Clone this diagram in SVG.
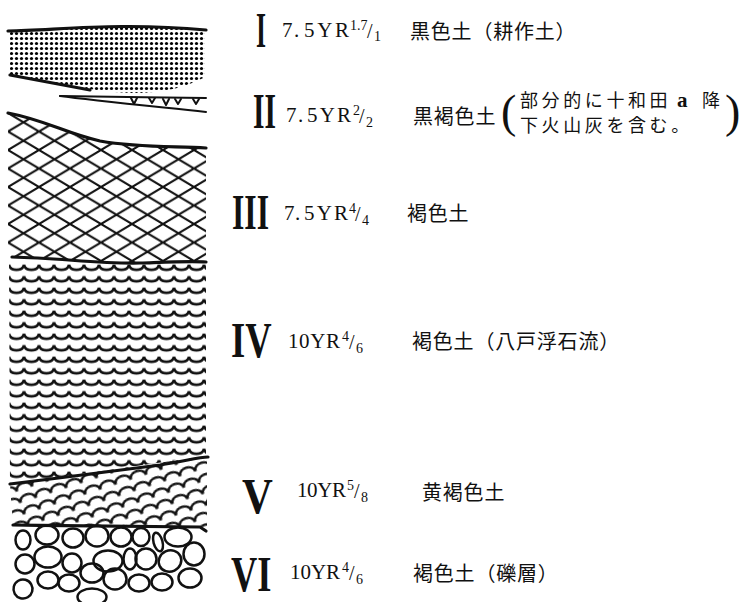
<svg xmlns="http://www.w3.org/2000/svg" width="742" height="602" viewBox="0 0 742 602">
<style>
  .bd{fill:none;stroke:#111;stroke-width:3.2;stroke-linecap:round;stroke-linejoin:round}
  .ln{fill:none;stroke:#111;stroke-width:2;stroke-linecap:round;stroke-linejoin:round}
  .peb ellipse{fill:none;stroke:#111;stroke-width:2.5}
  .num{font-family:"Liberation Serif",serif;font-weight:bold;font-size:50px;fill:#111}
  .mun{font-family:"Liberation Serif",serif;font-size:21px;fill:#111}
  .fr{font-family:"Liberation Serif",serif;font-size:14px;fill:#111}
  .sl{font-family:"Liberation Serif",serif;font-size:20px;fill:#111}
  .jp{font-family:"Noto Sans CJK JP","Noto Sans CJK SC",sans-serif;font-size:20px;letter-spacing:0.8px;fill:#111}
  .jp2{font-family:"Noto Sans CJK JP","Noto Sans CJK SC",sans-serif;font-size:18px;letter-spacing:3.6px;fill:#111}
  .par{font-family:"Liberation Serif",serif;font-size:46px;fill:#111}
</style>
<defs>
  <pattern id="dots" patternUnits="userSpaceOnUse" x="9" y="31" width="5" height="5">
    <circle cx="2.5" cy="2.5" r="1.6" fill="#000"/>
  </pattern>
  <pattern id="hatch" patternUnits="userSpaceOnUse" x="8" y="113" width="31" height="18.5">
    <path d="M-3.1,-1.85 L34.1,20.35 M-3.1,20.35 L34.1,-1.85" stroke="#111" stroke-width="2.1" fill="none"/>
  </pattern>
  <pattern id="waves" patternUnits="userSpaceOnUse" x="9" y="263" width="15" height="11.5">
    <path d="M0,1.6 C1.5,8.5 13.5,8.5 15,1.6" fill="none" stroke="#111" stroke-width="2.6"/>
  </pattern>
  <pattern id="waves-tilt" patternUnits="userSpaceOnUse" x="10" y="470" width="16" height="12" patternTransform="rotate(-18 10 470)">
    <path d="M0,10.5 C1,2 15,2 16,10.5" fill="none" stroke="#111" stroke-width="2.5"/>
  </pattern>
</defs>

<!-- soil column -->
<g id="horizon-I">
  <path d="M10,31 C60,30 120,22 205,30 L205,77 C190,85 170,92 140,93 C120,93 100,91 90,89 L10,75 Z" fill="url(#dots)"/>
  <path class="bd" d="M8,31 C60,30 120,22 206,30" stroke-width="3.6"/>
  <path class="bd" d="M10,75 L90,90"/>
</g>

<g id="horizon-II">
  <path class="ln" d="M60,96 C100,97 160,97 206,98"/>
  <path class="ln" d="M60,96 C90,100 140,105 206,112" stroke-width="2.6"/>
  <path class="ln" stroke-width="1.6" d="M131,98 L134,104 L137,98 M149,98 L152,103 L155,98 M163,99 L166,105 L169,99 M175,99 L178,104 L181,99 M193,99 L196,104 L199,99"/>
</g>

<g id="horizon-III">
  <path d="M8,113 C45,120 65,133 100,141 C140,148 175,146 206,148 L206,262 C190,261 170,262 140,263 C100,264 60,258 12,257 L8,257 Z" fill="url(#hatch)"/>
  <path class="bd" d="M8,113 C45,120 65,133 100,141 C140,148 175,146 206,148"/>
  <path class="bd" d="M12,257 C60,258 100,264 140,263 C170,262 190,261 206,262"/>
</g>

<g id="horizon-IV">
  <path d="M9,262 C60,259 100,265 140,264 C170,263 190,262 206,263 L206,456 L10,484 Z" fill="url(#waves)"/>
</g>

<g id="horizon-V">
  <path d="M10,484 L207,456 L207,528 L13,526 Z" fill="url(#waves-tilt)"/>
  <path class="bd" d="M10,484 C60,478 120,470 160,465 C185,461 200,457 208,457" stroke-width="3.6"/>
  <path class="bd" d="M13,525 C80,526 150,526 200,527 L206,531"/>
</g>

<g id="horizon-VI" class="peb">
  <ellipse cx="23" cy="540" rx="7.5" ry="9.5"/>
  <ellipse cx="47" cy="535" rx="11.5" ry="9.5"/>
  <ellipse cx="73" cy="538" rx="10.5" ry="9.5"/>
  <ellipse cx="97" cy="536" rx="11.5" ry="10.5"/>
  <ellipse cx="121" cy="537" rx="10.5" ry="9.5"/>
  <ellipse cx="141" cy="537" rx="8.5" ry="9"/>
  <ellipse cx="158" cy="542" rx="4.5" ry="9.5" transform="rotate(-15 158 542)"/>
  <ellipse cx="178" cy="537" rx="13.5" ry="9.5"/>
  <ellipse cx="25" cy="564" rx="9.5" ry="9.5"/>
  <ellipse cx="48" cy="557" rx="13.5" ry="10.5"/>
  <ellipse cx="72" cy="563" rx="9.5" ry="9.5"/>
  <ellipse cx="108" cy="561" rx="14.5" ry="10.5"/>
  <ellipse cx="130" cy="559" rx="6.5" ry="10.5"/>
  <ellipse cx="146" cy="559" rx="10.5" ry="10.5"/>
  <ellipse cx="170" cy="561" rx="11.5" ry="10.5" transform="rotate(-25 170 561)"/>
  <ellipse cx="194" cy="554" rx="10.5" ry="11.5"/>
  <ellipse cx="23" cy="589" rx="9.5" ry="9.5" transform="rotate(-30 23 589)"/>
  <ellipse cx="48" cy="580" rx="10.5" ry="8.5"/>
  <ellipse cx="69" cy="583" rx="10.5" ry="8.5"/>
  <ellipse cx="92" cy="573" rx="11.5" ry="9.5"/>
  <ellipse cx="115" cy="579" rx="11.5" ry="10.5"/>
  <ellipse cx="139" cy="583" rx="10.5" ry="8.5"/>
  <ellipse cx="162" cy="582" rx="10.5" ry="8.5"/>
  <ellipse cx="190" cy="578" rx="11.5" ry="9.5"/>
  <ellipse cx="92" cy="597" rx="14.5" ry="8.5"/>
</g>

<!-- horizon labels: numerals are narrowed with a horizontal scale -->
<g id="label-I">
  <text class="num" transform="translate(256,47) scale(0.514,1)">I</text>
  <text class="mun" y="37"><tspan x="282">7</tspan><tspan x="294">.</tspan><tspan x="304" textLength="45" lengthAdjust="spacing">5YR</tspan></text>
  <text class="fr" x="350" y="30">1.7</text>
  <text class="sl" x="367" y="38">/</text>
  <text class="fr" x="374" y="41">1</text>
  <text class="jp" x="410" y="39">黒色土（耕作土）</text>
</g>

<g id="label-II">
  <text class="num" transform="translate(253,128) scale(0.59,1)">II</text>
  <text class="mun" y="122"><tspan x="286">7</tspan><tspan x="298">.</tspan><tspan x="307" textLength="44" lengthAdjust="spacing">5YR</tspan></text>
  <text class="fr" x="353" y="115">2</text>
  <text class="sl" x="359" y="123">/</text>
  <text class="fr" x="366" y="127">2</text>
  <text class="jp" x="413" y="124">黒褐色土</text>
  <text class="par" x="501" y="127">(</text>
  <text class="jp2" x="520" y="107">部分的に十和田</text>
  <text class="mun" x="677" y="107" font-weight="bold" font-size="18">a</text>
  <text class="jp2" x="702" y="107">降</text>
  <text class="jp2" x="520" y="132">下火山灰を含む。</text>
  <text class="par" x="725" y="127">)</text>
</g>

<g id="label-III">
  <text class="num" transform="translate(232,229) scale(0.634,1)">III</text>
  <text class="mun" y="220"><tspan x="284">7</tspan><tspan x="295">.</tspan><tspan x="304" textLength="44" lengthAdjust="spacing">5YR</tspan></text>
  <text class="fr" x="349" y="213">4</text>
  <text class="sl" x="355" y="221">/</text>
  <text class="fr" x="362" y="225">4</text>
  <text class="jp" x="407" y="221">褐色土</text>
</g>

<g id="label-IV">
  <text class="num" font-size="53" transform="translate(231,357) scale(0.73,1)">IV</text>
  <text class="mun" x="288" y="348" textLength="52" lengthAdjust="spacing">10YR</text>
  <text class="fr" x="342" y="341">4</text>
  <text class="sl" x="349" y="349">/</text>
  <text class="fr" x="356" y="353">6</text>
  <text class="jp" x="412" y="349">褐色土（八戸浮石流）</text>
</g>

<g id="label-V">
  <text class="num" font-size="52" transform="translate(242,513) scale(0.853,1)">V</text>
  <text class="mun" x="297" y="497" textLength="49" lengthAdjust="spacing">10YR</text>
  <text class="fr" x="347" y="490">5</text>
  <text class="sl" x="354" y="498">/</text>
  <text class="fr" x="361" y="502">8</text>
  <text class="jp" x="422" y="500">黄褐色土</text>
</g>

<g id="label-VI">
  <text class="num" font-size="52" transform="translate(231,591) scale(0.727,1)">VI</text>
  <text class="mun" x="290" y="579" textLength="50" lengthAdjust="spacing">10YR</text>
  <text class="fr" x="342" y="572">4</text>
  <text class="sl" x="349" y="580">/</text>
  <text class="fr" x="356" y="584">6</text>
  <text class="jp" x="413" y="581">褐色土（礫層）</text>
</g>
</svg>
